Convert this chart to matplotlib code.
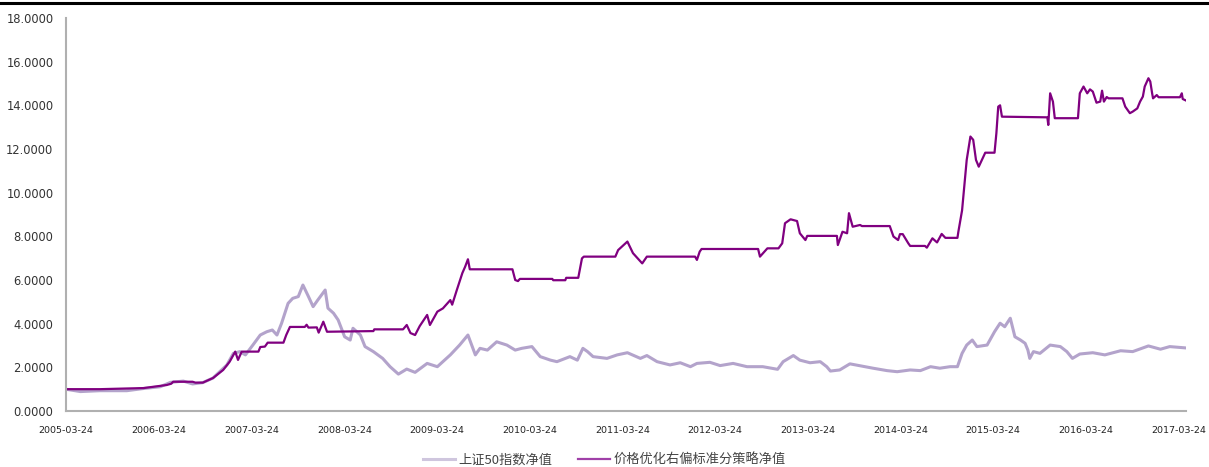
import matplotlib
matplotlib.use("Agg")
import matplotlib.pyplot as plt
from matplotlib.lines import Line2D
from datetime import date

# ---- data (x in decimal years) ----
strat_t = [2005.22, 2005.59, 2006.06, 2006.31, 2006.36, 2006.38, 2006.59, 2006.62, 2006.70, 2006.81,
           2006.92, 2006.99, 2007.05, 2007.08, 2007.12, 2007.30, 2007.32, 2007.37, 2007.40, 2007.57,
           2007.60, 2007.64, 2007.80, 2007.82, 2007.84, 2007.93, 2007.95, 2008.00, 2008.04, 2008.54,
           2008.55, 2008.86, 2008.90, 2008.94, 2008.99, 2009.04, 2009.12, 2009.15, 2009.23, 2009.29,
           2009.37, 2009.39, 2009.44, 2009.50, 2009.53, 2009.56, 2009.58, 2010.04, 2010.07, 2010.10,
           2010.12, 2010.47, 2010.48, 2010.61, 2010.62, 2010.75, 2010.79, 2010.81, 2011.15, 2011.18,
           2011.28, 2011.34, 2011.44, 2011.49, 2012.01, 2012.03, 2012.06, 2012.08, 2012.69, 2012.71,
           2012.79, 2012.91, 2012.95, 2012.98, 2013.04, 2013.11, 2013.14, 2013.20, 2013.22, 2013.54,
           2013.55, 2013.60, 2013.65, 2013.67, 2013.71, 2013.79, 2013.81, 2014.11, 2014.15, 2014.20,
           2014.22, 2014.25, 2014.31, 2014.33, 2014.49, 2014.51, 2014.57, 2014.62, 2014.67, 2014.71,
           2014.84, 2014.85, 2014.89, 2014.92, 2014.94, 2014.98, 2015.01, 2015.04, 2015.07, 2015.12,
           2015.14, 2015.24, 2015.26, 2015.28, 2015.30, 2015.32, 2015.81, 2015.82, 2015.84, 2015.87,
           2015.89, 2016.14, 2016.16, 2016.20, 2016.24, 2016.27, 2016.30, 2016.34, 2016.38, 2016.40,
           2016.42, 2016.45, 2016.47, 2016.62, 2016.65, 2016.70, 2016.73, 2016.78, 2016.81, 2016.84,
           2016.86, 2016.90, 2016.92, 2016.94, 2016.95, 2016.99, 2017.01, 2017.24, 2017.26, 2017.27,
           2017.30]
strat_v = [1.00, 1.00, 1.05, 1.19, 1.25, 1.34, 1.34, 1.30, 1.30, 1.51,
           1.88, 2.26, 2.72, 2.34, 2.72, 2.72, 2.93, 2.95, 3.13, 3.13,
           3.48, 3.85, 3.85, 3.95, 3.82, 3.83, 3.59, 4.09, 3.63, 3.66,
           3.74, 3.74, 3.94, 3.57, 3.48, 3.89, 4.40, 3.94, 4.55, 4.70,
           5.08, 4.87, 5.54, 6.32, 6.61, 6.95, 6.49, 6.49, 6.00, 5.95,
           6.05, 6.05, 5.99, 5.99, 6.10, 6.10, 6.99, 7.07, 7.07, 7.37,
           7.76, 7.23, 6.76, 7.07, 7.07, 6.92, 7.30, 7.42, 7.42, 7.07,
           7.45, 7.45, 7.68, 8.60, 8.78, 8.70, 8.14, 7.83, 8.02, 8.02,
           7.60, 8.21, 8.14, 9.06, 8.44, 8.52, 8.47, 8.47, 7.99, 7.83,
           8.10, 8.10, 7.68, 7.56, 7.56, 7.48, 7.91, 7.72, 8.11, 7.93,
           7.93, 8.21, 9.19, 10.58, 11.50, 12.57, 12.42, 11.50, 11.19, 11.65,
           11.83, 11.83, 12.72, 13.94, 14.00, 13.48, 13.45, 13.10, 14.55, 14.17,
           13.41, 13.41, 14.55, 14.86, 14.55, 14.73, 14.63, 14.12, 14.17, 14.67,
           14.17, 14.38, 14.32, 14.32, 13.94, 13.64, 13.71, 13.86, 14.17, 14.40,
           14.86, 15.24, 15.09, 14.55, 14.32, 14.47, 14.37, 14.37, 14.55, 14.29,
           14.23]

bench_t = [2005.22, 2005.38, 2005.59, 2005.88, 2006.06, 2006.24, 2006.35, 2006.49, 2006.59, 2006.70,
           2006.81, 2006.96, 2007.03, 2007.10, 2007.16, 2007.24, 2007.32, 2007.39, 2007.45, 2007.50,
           2007.55, 2007.62, 2007.67, 2007.73, 2007.78, 2007.84, 2007.89, 2007.94, 2008.02, 2008.05,
           2008.11, 2008.16, 2008.23, 2008.29, 2008.32, 2008.40, 2008.45, 2008.54, 2008.64, 2008.72,
           2008.81, 2008.90, 2008.99, 2009.12, 2009.23, 2009.37, 2009.47, 2009.56, 2009.64, 2009.69,
           2009.77, 2009.87, 2009.98, 2010.07, 2010.14, 2010.25, 2010.34, 2010.45, 2010.52, 2010.66,
           2010.74, 2010.80, 2010.85, 2010.91, 2011.06, 2011.17, 2011.28, 2011.42, 2011.49, 2011.60,
           2011.74, 2011.85, 2011.96, 2012.03, 2012.17, 2012.28, 2012.42, 2012.57, 2012.74, 2012.90,
           2012.96, 2013.07, 2013.14, 2013.25, 2013.36, 2013.43, 2013.47, 2013.57, 2013.68, 2013.79,
           2013.93, 2014.08, 2014.19, 2014.33, 2014.44, 2014.55, 2014.65, 2014.76, 2014.84, 2014.89,
           2014.94, 2015.00, 2015.05, 2015.16, 2015.24, 2015.30, 2015.35, 2015.41, 2015.46, 2015.52,
           2015.57, 2015.60, 2015.62, 2015.66, 2015.73, 2015.84, 2015.95, 2016.02, 2016.08, 2016.16,
           2016.30, 2016.43, 2016.60, 2016.73, 2016.90, 2017.03, 2017.13, 2017.30]
bench_v = [1.00, 0.89, 0.93, 0.93, 1.03, 1.11, 1.31, 1.37, 1.24, 1.30,
           1.51, 2.11, 2.64, 2.72, 2.57, 3.02, 3.48, 3.63, 3.71, 3.48,
           4.02, 4.93, 5.16, 5.24, 5.77, 5.24, 4.78, 5.08, 5.54, 4.71,
           4.48, 4.17, 3.40, 3.25, 3.79, 3.48, 2.95, 2.72, 2.41, 2.03,
           1.69, 1.92, 1.77, 2.18, 2.03, 2.57, 3.02, 3.48, 2.57, 2.87,
           2.79, 3.17, 3.02, 2.79, 2.87, 2.95, 2.49, 2.33, 2.26, 2.49,
           2.33, 2.87, 2.72, 2.49, 2.41, 2.57, 2.67, 2.41, 2.54, 2.26,
           2.11, 2.21, 2.03, 2.18, 2.23, 2.08, 2.18, 2.03, 2.03, 1.91,
           2.26, 2.54, 2.33, 2.21, 2.26, 2.03, 1.83, 1.88, 2.16, 2.07,
           1.96, 1.85, 1.80, 1.88, 1.85, 2.03, 1.96, 2.03, 2.03, 2.64,
           3.02, 3.25, 2.95, 3.02, 3.63, 4.02, 3.86, 4.25, 3.40, 3.25,
           3.10, 2.79, 2.41, 2.72, 2.64, 3.02, 2.95, 2.72, 2.41, 2.61,
           2.67, 2.57, 2.76, 2.72, 2.98, 2.83, 2.95, 2.89]

tick_labels = ["2005-03-24", "2006-03-24", "2007-03-24", "2008-03-24", "2009-03-24",
               "2010-03-24", "2011-03-24", "2012-03-24", "2013-03-24", "2014-03-24",
               "2015-03-24", "2016-03-24", "2017-03-24"]
y_ticks = [0, 2, 4, 6, 8, 10, 12, 14, 16, 18]
series_names = ["上证50指数净值", "价格优化右偏标准分策略净值"]


def to_year(s):
    d = date.fromisoformat(s)
    return d.year + (d.timetuple().tm_yday - 1) / 365.0


plt.rcParams['font.family'] = ['Noto Sans CJK SC', 'DejaVu Sans']

fig = plt.figure(figsize=(12.09, 4.67), dpi=100)
ax = fig.add_axes([0.0546, 0.1199, 0.9265, 0.8416])

ax.plot(bench_t, bench_v, color="#B3A3CB", lw=2.2, label=series_names[0], solid_joinstyle="round")
ax.plot(strat_t, strat_v, color="#800080", lw=1.6, label=series_names[1], solid_joinstyle="round")

ax.set_xlim(to_year("2005-03-24"), 2017.307)
ax.set_ylim(0, 18)
ax.set_yticks(y_ticks)
ax.set_yticklabels([f"{v:.4f}" for v in y_ticks], fontsize=8.3, color="#333333",
                   family=['DejaVu Sans'])
ax.set_xticks([to_year(s) for s in tick_labels])
ax.set_xticklabels(tick_labels, fontsize=6.8, color="#222222", family=['DejaVu Sans'])
ax.tick_params(axis='both', length=0)
ax.tick_params(axis='y', pad=9)
ax.tick_params(axis='x', pad=11)

for side in ["top", "right"]:
    ax.spines[side].set_visible(False)
for side in ["left", "bottom"]:
    ax.spines[side].set_color("#B0B0B0")
    ax.spines[side].set_linewidth(1.5)

leg = fig.legend(loc="lower center", bbox_to_anchor=(0.5, -0.025), ncol=2, frameon=False,
                 fontsize=9.5, handlelength=2.4, columnspacing=1.9, handletextpad=0.3)
for t in leg.get_texts():
    t.set_color("#444444")
leg.get_lines()[0].set_color("#CFC6DE")
leg.get_lines()[1].set_color("#A040A8")

fig.add_artist(Line2D([0, 1], [0.994, 0.994], color="black", lw=2.2, transform=fig.transFigure))

fig.savefig("out.png", dpi=100)
